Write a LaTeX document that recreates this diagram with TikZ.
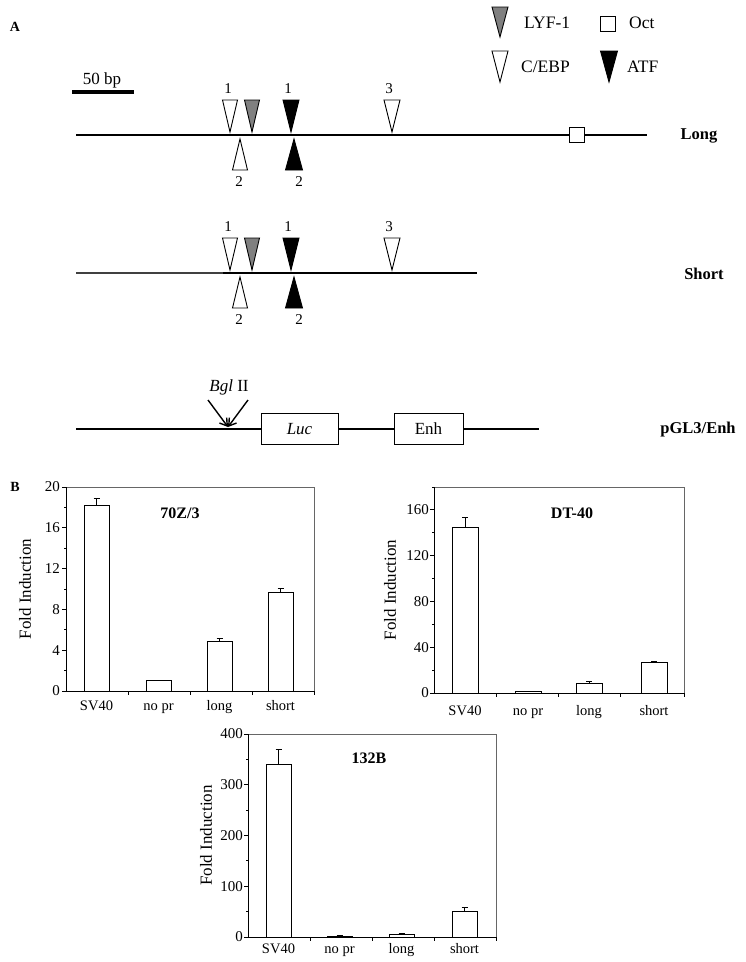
\documentclass[tikz,border=0pt]{standalone}
\usepackage{fontspec}
\setmainfont{Liberation Serif}
\usetikzlibrary{arrows.meta}

\tikzset{
  dna/.style={line width=1.1pt},
  cebp/.style={draw, fill=white, line width=0.9pt},
  lyf/.style={draw, fill=gray, line width=0.9pt},
  atf/.style={draw, fill=black, line width=0.9pt},
  octbox/.style={draw, fill=white, line width=0.9pt, minimum size=15pt, inner sep=0pt},
  genebox/.style={draw, fill=white, line width=1pt, minimum height=31pt, inner sep=0pt, font=\fontsize{17}{20}\selectfont},
  cutarrow/.style={line width=1.4pt, -{Straight Barb[length=7pt, width=9pt]}},
  sitenum/.style={inner sep=0pt, font=\fontsize{15}{18}\selectfont},
  legtext/.style={anchor=west, inner sep=0pt, font=\fontsize{17.5}{20}\selectfont},
  maplabel/.style={inner sep=0pt, font=\bfseries\fontsize{16.5}{20}\selectfont},
  panel/.style={inner sep=0pt, font=\bfseries\fontsize{14}{16}\selectfont},
  chartframe/.style={draw=black!60, line width=0.9pt},
  yaxis/.style={line width=0.9pt},
  barbox/.style={draw, fill=white, line width=0.9pt},
  errbar/.style={line width=0.9pt},
  ticklab/.style={anchor=east, inner sep=0pt, font=\fontsize{15}{18}\selectfont},
  catlab/.style={anchor=base, inner sep=0pt, font=\fontsize{14.5}{18}\selectfont},
  charttitle/.style={inner sep=0pt, font=\bfseries\fontsize{16}{19}\selectfont},
  ylab/.style={rotate=90, inner sep=0pt, font=\fontsize{17}{20}\selectfont},
}

\begin{document}
\begin{tikzpicture}[x=1pt, y=-1pt]
        \fill[white] (0,0) rectangle (745,962);
        \useasboundingbox (0,0) rectangle (745,962);

        % panel A
        \node[panel] (A) at (15,27) {A};

        % legend
        \draw[lyf] (500,37) -- ++(-8,-30) -- ++(16,0) -- cycle;
        \node[legtext] (lyflab) at (524,23) {LYF-1};
        \node[octbox] (octleg) at (608,23.5) {};
        \node[legtext] (octlab) at (629,23) {Oct};
        \draw[cebp] (500,82) -- ++(-8,-31) -- ++(16,0) -- cycle;
        \node[legtext] (cebplab) at (521,67) {C/EBP};
        \draw[atf] (609,82) -- ++(-8.5,-31) -- ++(17,0) -- cycle;
        \node[legtext] (atflab) at (627,67) {ATF};

        % scale bar
        \draw[line width=4pt] (72,92) -- (134,92);
        \node[inner sep=0pt, font=\fontsize{17}{20}\selectfont] (bp) at (102,80) {50 bp};

        % long and short promoters
        \coordinate (longL) at (76,135);
        \coordinate (longR) at (647,135);
        \node[octbox] (oct) at (577,135) {};
        \draw[dna] (longL) -- (oct) -- (longR);
        \node[maplabel] (longlab) at (699,136) {Long};

        \coordinate (shortL) at (76,273);
        \coordinate (shortM) at (223,273);
        \coordinate (shortR) at (477,273);
        \draw[dna, black!75] (shortL) -- (shortM);
        \draw[dna] (shortM) -- (shortR);
        \node[maplabel] (shortlab) at (704,274) {Short};

        \foreach \y in {135,273} {
          \draw[cebp] (230,{\y-3}) -- ++(-7.5,-32) -- ++(15,0) -- cycle;
          \draw[lyf] (252,{\y-3}) -- ++(-7.5,-32) -- ++(15,0) -- cycle;
          \draw[atf] (291,{\y-3}) -- ++(-8,-32) -- ++(16,0) -- cycle;
          \draw[cebp] (392,{\y-3}) -- ++(-8,-32) -- ++(16,0) -- cycle;
          \draw[cebp] (240,{\y+4}) -- ++(-7.5,31) -- ++(15,0) -- cycle;
          \draw[atf] (294,{\y+4}) -- ++(-8.5,31) -- ++(17,0) -- cycle;
          \node[sitenum] (cebpa\y) at (228,{\y-46}) {1};
          \node[sitenum] (atfa\y) at (288,{\y-46}) {1};
          \node[sitenum] (cebpc\y) at (389,{\y-46}) {3};
          \node[sitenum] (cebpb\y) at (239,{\y+47}) {2};
          \node[sitenum] (atfb\y) at (299,{\y+47}) {2};
        }

        % reporter
        \coordinate (pL) at (76,429);
        \coordinate (pR) at (539,429);
        \node[genebox, minimum width=77pt] (luc) at (299.5,429) {\itshape Luc};
        \node[genebox, minimum width=69pt] (enh) at (428.5,429) {Enh};
        \draw[dna] (pL) -- (luc);
        \draw[dna] (luc) -- (enh);
        \draw[dna] (enh) -- (pR);
        \coordinate (bglsite) at (228,427);
        \coordinate (bglL) at (208,400);
        \coordinate (bglR) at (248,400);
        \draw[cutarrow] (bglL) -- (bglsite);
        \draw[cutarrow] (bglR) -- (bglsite);
        \node[inner sep=0pt, font=\fontsize{17}{20}\selectfont] (bgl) at (229,387) {\textit{Bgl} II};
        \node[maplabel] (pgllab) at (698,430) {pGL3/Enh};

        % panel B
        \node[panel] (B) at (15,487) {B};

        % 70Z/3
        \begin{scope}[shift={(66,691)}, y=10.2pt]
          \draw[chartframe] (0,0) rectangle (248,20);
          \draw[yaxis] (0,20) -- (0,0) -- (248,0);
          \foreach \v in {0,4,...,20} {
            \draw[yaxis] (0,\v) -- ++(-4,0);
            \node[ticklab] (tickA\v) at (-6,\v) {\v};
          }
          \foreach \v in {2,6,...,18} \draw[yaxis] (0,\v) -- ++(-2,0);
          \foreach \x in {62,124,186,248} \draw[yaxis] (\x,0) -- ++(0,-4pt);
          \foreach \bx/\v/\e/\t [count=\i] in {18/18.2/18.9/SV40, 80/1.0/1.05/no pr, 141/4.9/5.2/long, 202/9.7/10.1/short} {
            \draw[barbox] (\bx,0) rectangle ++(25,\v);
            \draw[errbar] ({\bx+12.5},\v) -- ({\bx+12.5},\e) ++(-3,0) -- ++(6,0);
            \node[catlab] (catA\i) at ({\bx+12.5},0) [yshift=-19pt] {\t};
          }
          \node[charttitle] (titleA) at (114,20) [yshift=-26pt] {70Z/3};
          \node[ylab] (ylabA) at (-41,10) {Fold Induction};
        \end{scope}

        % DT-40
        \begin{scope}[shift={(434,693)}, y=1.1444pt]
          \draw[chartframe] (0,0) rectangle (250,180);
          \draw[yaxis] (0,180) -- (0,0) -- (250,0);
          \foreach \v in {0,40,...,160} {
            \draw[yaxis] (0,\v) -- ++(-4,0);
            \node[ticklab] (tickB\v) at (-5,\v) {\v};
          }
          \foreach \v in {20,60,...,180} \draw[yaxis] (0,\v) -- ++(-2,0);
          \foreach \x in {62,124,186,250} \draw[yaxis] (\x,0) -- ++(0,-4pt);
          \foreach \bx/\v/\e/\t [count=\i] in {18/145/153/SV40, 81/1.2/1.6/no pr, 142/8.7/10.5/long, 207/27/28/short} {
            \draw[barbox] (\bx,0) rectangle ++(26,\v);
            \draw[errbar] ({\bx+13},\v) -- ({\bx+13},\e) ++(-3,0) -- ++(6,0);
            \node[catlab] (catB\i) at ({\bx+13},0) [yshift=-22pt] {\t};
          }
          \node[charttitle] (titleB) at (138,180) [yshift=-26pt] {DT-40};
          \node[ylab] (ylabB) at (-44,90) {Fold Induction};
        \end{scope}

        % 132B
        \begin{scope}[shift={(248,937)}, y=0.5075pt]
          \draw[chartframe] (0,0) rectangle (248,400);
          \draw[yaxis] (0,400) -- (0,0) -- (248,0);
          \foreach \v in {0,100,...,400} {
            \draw[yaxis] (0,\v) -- ++(-4,0);
            \node[ticklab] (tickC\v) at (-5,\v) {\v};
          }
          \foreach \v in {50,150,...,350} \draw[yaxis] (0,\v) -- ++(-2,0);
          \foreach \x in {62,124,186,248} \draw[yaxis] (\x,0) -- ++(0,-4pt);
          \foreach \bx/\v/\e/\t [count=\i] in {18/340/370/SV40, 79/2/2.5/no pr, 141/6/7.5/long, 204/50/58/short} {
            \draw[barbox] (\bx,0) rectangle ++(25,\v);
            \draw[errbar] ({\bx+12.5},\v) -- ({\bx+12.5},\e) ++(-3,0) -- ++(6,0);
            \node[catlab] (catC\i) at ({\bx+12.5},0) [yshift=-16pt] {\t};
          }
          \node[charttitle] (titleC) at (121,400) [yshift=-24pt] {132B};
          \node[ylab] (ylabC) at (-42,200) {Fold Induction};
        \end{scope}
        \end{tikzpicture}
\end{document}
